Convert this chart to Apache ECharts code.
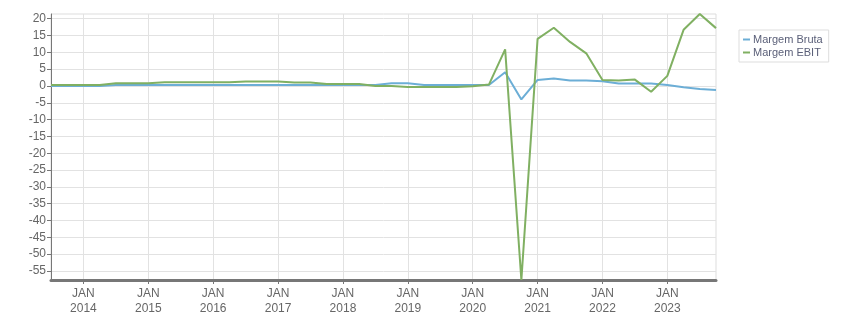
<!DOCTYPE html>
<html><head><meta charset="utf-8">
<script src="https://cdn.jsdelivr.net/npm/echarts@6/dist/echarts.min.js"></script>
<style>html,body{margin:0;padding:0;background:#fff}#c{width:851px;height:313px}</style>
</head><body><div id="c"></div>
<script>
var quarters = ["2013-07","2013-10","2014-01","2014-04","2014-07","2014-10","2015-01","2015-04","2015-07","2015-10",
"2016-01","2016-04","2016-07","2016-10","2017-01","2017-04","2017-07","2017-10","2018-01","2018-04","2018-07","2018-10",
"2019-01","2019-04","2019-07","2019-10","2020-01","2020-04","2020-07","2020-10","2021-01","2021-04","2021-07","2021-10",
"2022-01","2022-04","2022-07","2022-10","2023-01","2023-04","2023-07","2023-10"];
var margemBruta = [0.0,0.0,0.0,0.0,0.3,0.3,0.3,0.3,0.3,0.3,0.3,0.3,0.3,0.3,0.3,0.3,0.3,0.3,0.3,0.3,0.3,0.8,0.8,0.3,0.3,0.3,
0.3,0.3,4.1,-4.0,1.8,2.2,1.6,1.6,1.4,0.7,0.7,0.7,0.3,-0.4,-0.9,-1.2];
var margemEBIT = [0.3,0.3,0.3,0.3,0.8,0.8,0.8,1.1,1.1,1.1,1.1,1.1,1.3,1.3,1.3,1.0,1.0,0.6,0.6,0.6,0.0,0.0,-0.3,-0.3,-0.3,-0.3,
-0.1,0.4,10.9,-57.7,14.0,17.3,13.1,9.7,1.8,1.6,1.9,-1.7,3.0,16.7,21.4,17.2];
var yTicks = [-55,-50,-45,-40,-35,-30,-25,-20,-15,-10,-5,0,5,10,15,20];
var monthNames = {"01":"JAN"};

var chart = echarts.init(document.getElementById('c'), null, {renderer:'canvas'});
function isJan(idx){ return quarters[idx].slice(5) === "01"; }
chart.setOption({
  animation:false,
  textStyle:{fontFamily:'Liberation Sans, Arial, sans-serif'},
  grid:{left:51,right:135,top:14,bottom:33,show:true,borderColor:'#dddddd',borderWidth:1,
        containLabel:false, outerBoundsMode:'none'},
  legend:{
    orient:'vertical', left:739, top:30, data:['Margem Bruta','Margem EBIT'],
    icon:'rect', itemWidth:7, itemHeight:2, itemGap:2,
    borderColor:'#dddddd', borderWidth:1, padding:[4,6,4,4],
    textStyle:{fontSize:11,color:'#5a5f78',padding:[0,0,0,-2]}
  },
  xAxis:{
    type:'category', data:quarters, boundaryGap:false,
    axisLine:{onZero:false, lineStyle:{color:'#777777',width:3}},
    axisTick:{interval:function(i){return isJan(i);}, length:4, lineStyle:{color:'#777777',width:1}},
    axisLabel:{interval:function(i){return isJan(i);}, color:'#666666', fontSize:12, lineHeight:15, margin:6,
      formatter:function(v){ return monthNames[v.slice(5)] + "\n" + v.slice(0,4); }},
    splitLine:{show:true, interval:function(i){return isJan(i);}, lineStyle:{color:'#e2e2e2',width:1}}
  },
  yAxis:{
    type:'value', min:-57.7, max:21.4,
    axisLine:{show:true,lineStyle:{color:'#777777',width:1}},
    axisTick:{show:true, customValues:yTicks, length:4, lineStyle:{color:'#777777'}},
    axisLabel:{customValues:yTicks, color:'#666666', fontSize:12, margin:5},
    splitLine:{show:true, lineStyle:{color:'#e2e2e2',width:1}}
  },
  series:[
    {name:'Margem Bruta', type:'line', data:margemBruta, showSymbol:false, symbol:'none',
      lineStyle:{color:'#6caed6',width:2}, itemStyle:{color:'#6caed6'}},
    {name:'Margem EBIT', type:'line', data:margemEBIT, showSymbol:false, symbol:'none',
      lineStyle:{color:'#80b062',width:2}, itemStyle:{color:'#80b062'}}
  ]
});
</script></body></html>
